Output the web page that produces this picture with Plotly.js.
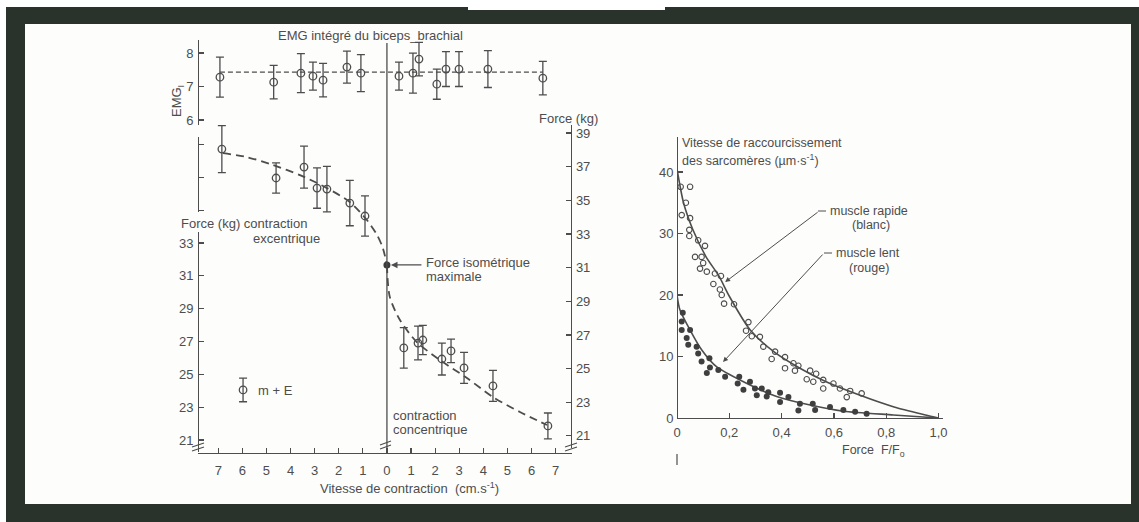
<!DOCTYPE html>
<html>
<head>
<meta charset="utf-8">
<script src="https://cdn.plot.ly/plotly-3.0.1.min.js"></script>
<style>html,body{margin:0;padding:0;background:#fff;}#chart{width:1139px;height:522px;}</style>
</head>
<body>
<div id="chart"></div>
<script>
// ---------- Left panel: EMG (top) ----------
const emgX   = [-6.93, -4.7, -3.57, -3.07, -2.65, -1.66, -1.08, 0.5, 1.08, 1.33, 2.07, 2.45, 2.99, 4.19, 6.47];
const emgY   = [7.28, 7.13, 7.40, 7.31, 7.19, 7.58, 7.40, 7.31, 7.40, 7.82, 7.07, 7.52, 7.52, 7.52, 7.25];
const emgErr = [0.6, 0.5, 0.58, 0.42, 0.5, 0.48, 0.55, 0.42, 0.6, 0.5, 0.45, 0.52, 0.52, 0.55, 0.5];
const emgMeanX = [-6.93, 6.47];
const emgMeanY = [7.43, 7.43];

// ---------- Left panel: force vs velocity ----------
const forceEccX   = [-6.85, -4.6, -3.44, -2.9, -2.49, -1.54, -0.91];
const forceEccY   = [38.05, 36.33, 36.98, 35.73, 35.67, 34.84, 34.07];
const forceEccErr = [1.4, 0.9, 1.25, 1.2, 1.35, 1.35, 1.2];
const forceConX   = [0.7, 1.29, 1.49, 2.28, 2.66, 3.2, 4.4, 6.68];
const forceConY   = [26.23, 26.52, 26.7, 25.57, 26.05, 25.04, 23.97, 21.59];
const forceConErr = [1.2, 1.0, 0.87, 0.95, 0.7, 0.92, 0.92, 0.77];
const isoX = [0];
const isoY = [31.16];
const keyX = [-5.97];
const keyY = [23.73];
const keyErr = [0.7];
const eccCurveX = [-6.8, -5.81, -4.73, -3.61, -2.49, -1.54, -0.83, -0.41, -0.17, 0];
const eccCurveY = [37.81, 37.57, 37.1, 36.5, 35.73, 34.9, 33.83, 32.94, 32.17, 31.16];
const conCurveX = [0, 0.12, 0.54, 1.24, 2.2, 3.32, 4.4, 5.52, 6.64];
const conCurveY = [31.16, 29.26, 27.89, 26.58, 25.51, 24.44, 23.31, 22.42, 21.65];
const velTickVals = [-7, -6, -5, -4, -3, -2, -1, 0, 1, 2, 3, 4, 5, 6, 7];
const velTickText = ['7','6','5','4','3','2','1','0','1','2','3','4','5','6','7'];

// ---------- Right panel: sarcomere shortening velocity ----------
const fastF = [0.014,0.05,0.034,0.018,0.05,0.047,0.047,0.081,0.107,0.069,0.094,0.10,0.088,0.114,0.145,0.168,0.139,0.164,0.171,0.18,0.218,0.273,0.264,0.286,0.317,0.33,0.375,0.362,0.413,0.413,0.445,0.464,0.451,0.509,0.532,0.496,0.521,0.559,0.598,0.559,0.623,0.662,0.649,0.706];
const fastV = [37.6,37.6,35.0,33.0,32.5,30.6,29.6,28.9,28.0,26.2,26.2,25.2,24.3,23.8,23.5,23.1,21.8,20.9,20.0,18.6,18.5,15.6,14.2,13.3,13.2,11.6,10.8,9.6,9.9,8.1,8.9,8.5,7.7,7.7,7.2,6.3,5.9,6.2,5.6,4.8,4.8,4.4,3.4,4.0];
const slowF = [0.022,0.018,0.018,0.05,0.037,0.043,0.075,0.081,0.094,0.124,0.114,0.126,0.158,0.184,0.238,0.232,0.279,0.254,0.298,0.324,0.305,0.343,0.349,0.394,0.394,0.426,0.464,0.47,0.519,0.528,0.585,0.636,0.681,0.725];
const slowV = [17.1,15.7,14.3,14.3,13.0,11.9,11.6,10.5,9.2,9.7,7.3,8.2,7.8,6.7,6.7,5.6,5.9,4.6,4.8,4.8,3.7,3.5,4.2,4.1,2.6,3.4,1.2,2.3,2.3,1.3,1.8,1.3,1.0,0.7];
const fastCurveF = [0, 0.025, 0.06, 0.11, 0.16, 0.2, 0.28, 0.37, 0.47, 0.57, 0.7, 0.83, 0.95, 1.0];
const fastCurveV = [40.5, 35, 30.7, 26.3, 23.1, 19.8, 14.3, 10.8, 8.1, 5.9, 3.7, 1.8, 0.5, 0];
const slowCurveF = [0, 0.011, 0.05, 0.094, 0.152, 0.254, 0.381, 0.509, 0.636, 0.827, 1.0];
const slowCurveV = [20, 17.6, 14.3, 11.1, 8.3, 5.9, 3.5, 2.1, 1.1, 0.5, 0];
const fTickVals = [0, 0.2, 0.4, 0.6, 0.8, 1.0];
const fTickText = ['0', '0,2', '0,4', '0,6', '0,8', '1,0'];
const vTickVals = [0, 10, 20, 30, 40];

// ---------- helpers (pixel -> paper) ----------
const W = 1139, H = 522;
const X = p => p / W;
const Y = p => 1 - p / H;
const INK = '#4d4d4d';
const FONT = 'Liberation Sans, Arial, sans-serif';

const err = arr => ({type: 'data', array: arr, visible: true, color: INK, thickness: 1.3, width: 4});
const openMk = {symbol: 'circle-open', size: 7.5, color: INK, line: {width: 1.3, color: INK}};

const traces = [
  // EMG
  {x: emgMeanX, y: emgMeanY, xaxis: 'x', yaxis: 'y', mode: 'lines', line: {color: INK, width: 1.3, dash: '5px,3px'}, hoverinfo: 'skip'},
  {x: emgX, y: emgY, xaxis: 'x', yaxis: 'y', mode: 'markers', marker: openMk, error_y: err(emgErr)},
  // Force curves
  {x: eccCurveX, y: eccCurveY, xaxis: 'x', yaxis: 'y2', mode: 'lines', line: {color: INK, width: 1.8, dash: '8px,5px', shape: 'spline', smoothing: 0.8}},
  {x: conCurveX, y: conCurveY, xaxis: 'x', yaxis: 'y2', mode: 'lines', line: {color: INK, width: 1.8, dash: '8px,5px', shape: 'spline', smoothing: 0.8}},
  {x: forceEccX, y: forceEccY, xaxis: 'x', yaxis: 'y2', mode: 'markers', marker: openMk, error_y: err(forceEccErr)},
  {x: forceConX, y: forceConY, xaxis: 'x', yaxis: 'y2', mode: 'markers', marker: openMk, error_y: err(forceConErr)},
  {x: keyX, y: keyY, xaxis: 'x', yaxis: 'y2', mode: 'markers', marker: openMk, error_y: err(keyErr)},
  {x: isoX, y: isoY, xaxis: 'x', yaxis: 'y2', mode: 'markers', marker: {symbol: 'circle', size: 7, color: '#3a3a3a'}},
  // dummy traces so the extra axes get drawn
  {x: [null], y: [null], xaxis: 'x', yaxis: 'y3', mode: 'markers', hoverinfo: 'skip'},
  {x: [null], y: [null], xaxis: 'x', yaxis: 'y4', mode: 'markers', hoverinfo: 'skip'},
  // Right panel
  {x: fastCurveF, y: fastCurveV, xaxis: 'x2', yaxis: 'y5', mode: 'lines', line: {color: INK, width: 1.6, shape: 'spline', smoothing: 0.7}},
  {x: slowCurveF, y: slowCurveV, xaxis: 'x2', yaxis: 'y5', mode: 'lines', line: {color: INK, width: 1.6, shape: 'spline', smoothing: 0.7}},
  {x: fastF, y: fastV, xaxis: 'x2', yaxis: 'y5', mode: 'markers', marker: {symbol: 'circle-open', size: 5.5, color: INK, line: {width: 1.1, color: INK}}},
  {x: slowF, y: slowV, xaxis: 'x2', yaxis: 'y5', mode: 'markers', marker: {symbol: 'circle', size: 6, color: '#3f3f3f'}}
];

const axBase = {
  showgrid: false, zeroline: false, showline: true, linecolor: INK, linewidth: 1.3,
  ticks: 'inside', ticklen: 5, tickwidth: 1.2, tickcolor: INK,
  tickfont: {family: FONT, size: 13, color: INK}, fixedrange: true
};

const layout = {
  width: W, height: H,
  margin: {l: 0, r: 0, t: 0, b: 0},
  paper_bgcolor: '#29322b',
  plot_bgcolor: 'rgba(0,0,0,0)',
  showlegend: false,
  font: {family: FONT, color: INK},
  xaxis: Object.assign({}, axBase, {
    domain: [X(198), X(572)], range: [-7.84, 7.68], anchor: 'free', position: Y(453),
    tickmode: 'array', tickvals: velTickVals, ticktext: velTickText, ticklabelstandoff: 5
  }),
  yaxis: Object.assign({}, axBase, {
    domain: [Y(125), Y(40)], range: [5.85, 8.39], anchor: 'free', position: X(198),
    tickmode: 'array', tickvals: [6, 7, 8], ticklabelstandoff: 2
  }),
  yaxis2: Object.assign({}, axBase, {
    domain: [Y(448), Y(125)], range: [20.28, 39.48], anchor: 'free', position: X(571), side: 'right',
    tickmode: 'array', tickvals: [21, 23, 25, 27, 29, 31, 33, 35, 37, 39], ticklabelstandoff: 1
  }),
  yaxis3: Object.assign({}, axBase, {
    domain: [Y(452), Y(232)], range: [20.27, 33.67], anchor: 'free', position: X(198),
    tickmode: 'array', tickvals: [21, 23, 25, 27, 29, 31, 33], ticklabelstandoff: 2
  }),
  yaxis4: Object.assign({}, axBase, {
    domain: [Y(212), Y(137)], range: [34.89, 39.45], anchor: 'free', position: X(198),
    tickmode: 'array', tickvals: [35, 37, 39], showticklabels: false
  }),
  xaxis2: Object.assign({}, axBase, {
    domain: [X(677), X(943)], range: [0, 1.017], anchor: 'free', position: Y(418),
    tickmode: 'array', tickvals: fTickVals, ticktext: fTickText, ticklabelstandoff: 2
  }),
  yaxis5: Object.assign({}, axBase, {
    domain: [Y(418), Y(137)], range: [0, 45.7], anchor: 'free', position: X(677),
    tickmode: 'array', tickvals: vTickVals, ticklabelstandoff: 1
  }),
  shapes: [
    // scanned page: dark frame with white paper
    {type: 'rect', xref: 'paper', yref: 'paper', x0: X(25), x1: X(1131), y0: Y(504), y1: Y(24), fillcolor: '#fdfdfc', line: {width: 0}, layer: 'below'},
    {type: 'rect', xref: 'paper', yref: 'paper', x0: 0, x1: 1, y0: Y(7), y1: 1, fillcolor: '#ffffff', line: {width: 0}, layer: 'below'},
    {type: 'rect', xref: 'paper', yref: 'paper', x0: 0, x1: X(6), y0: 0, y1: 1, fillcolor: '#ffffff', line: {width: 0}, layer: 'below'},
    {type: 'rect', xref: 'paper', yref: 'paper', x0: X(468), x1: X(665), y0: Y(10), y1: 1, fillcolor: '#ffffff', line: {width: 0}, layer: 'below'},
    // isometric (zero velocity) vertical line
    {type: 'line', xref: 'x', yref: 'paper', x0: 0, x1: 0, y0: Y(453), y1: Y(43), line: {color: INK, width: 1.3}},
    // axis break marks
    {type: 'line', xref: 'paper', yref: 'paper', x0: X(192), x1: X(204), y0: Y(447), y1: Y(443), line: {color: INK, width: 1.2}},
    {type: 'line', xref: 'paper', yref: 'paper', x0: X(192), x1: X(204), y0: Y(451), y1: Y(447), line: {color: INK, width: 1.2}},
    {type: 'line', xref: 'paper', yref: 'paper', x0: X(380), x1: X(391), y0: Y(445), y1: Y(441), line: {color: INK, width: 1.2}},
    {type: 'line', xref: 'paper', yref: 'paper', x0: X(380), x1: X(391), y0: Y(449), y1: Y(445), line: {color: INK, width: 1.2}},
    {type: 'line', xref: 'paper', yref: 'paper', x0: X(565), x1: X(577), y0: Y(447), y1: Y(443), line: {color: INK, width: 1.2}},
    {type: 'line', xref: 'paper', yref: 'paper', x0: X(565), x1: X(577), y0: Y(451), y1: Y(447), line: {color: INK, width: 1.2}},
    // leader stubs beside labels of right panel
    {type: 'line', xref: 'paper', yref: 'paper', x0: X(818), x1: X(826), y0: Y(211), y1: Y(211), line: {color: INK, width: 1}},
    {type: 'line', xref: 'paper', yref: 'paper', x0: X(824), x1: X(832), y0: Y(253), y1: Y(253), line: {color: INK, width: 1}},
    // stray mark under right panel
    {type: 'line', xref: 'paper', yref: 'paper', x0: X(677), x1: X(677), y0: Y(465), y1: Y(454), line: {color: INK, width: 1.2}}
  ],
  annotations: []
};

function txt(text, px, py, opts) {
  return Object.assign({
    text: text, xref: 'paper', yref: 'paper', x: X(px), y: Y(py),
    xanchor: 'left', yanchor: 'middle', showarrow: false,
    font: {family: FONT, size: 13, color: INK}
  }, opts || {});
}

layout.annotations.push(
  txt('EMG intégré du biceps_brachial', 370, 35, {xanchor: 'center'}),
  txt('EMG<sub>I</sub>', 178, 101, {xanchor: 'center', textangle: -90}),
  txt('Force (kg)', 568, 118, {xanchor: 'center'}),
  txt('Force (kg) contraction', 179, 223),
  txt('excentrique', 251, 238),
  txt('Force isométrique', 424, 262),
  txt('maximale', 424, 276),
  txt('m + E', 256, 390),
  txt('contraction', 391, 415),
  txt('concentrique', 391, 429),
  txt('Vitesse de contraction  (cm.s<sup>-1</sup>)', 409, 488, {xanchor: 'center'}),
  txt('Vitesse de raccourcissement', 680, 143, {font: {family: FONT, size: 12.5, color: INK}}),
  txt('des sarcomères (µm·s<sup>-1</sup>)', 680, 160, {font: {family: FONT, size: 12.5, color: INK}}),
  txt('muscle rapide', 828, 211, {font: {family: FONT, size: 12.5, color: INK}}),
  txt('(blanc)', 850, 225, {font: {family: FONT, size: 12.5, color: INK}}),
  txt('muscle lent', 834, 253, {font: {family: FONT, size: 12.5, color: INK}}),
  txt('(rouge)', 847, 268, {font: {family: FONT, size: 12.5, color: INK}}),
  txt('Force  F/F<sub>o</sub>', 840, 451, {font: {family: FONT, size: 12.5, color: INK}}),
  // arrows
  {xref: 'x', yref: 'y2', x: isoX[0], y: isoY[0], ax: 36, ay: 0, text: '', showarrow: true,
   arrowhead: 2, arrowsize: 1.1, arrowwidth: 1.2, arrowcolor: INK, standoff: 4},
  {xref: 'x2', yref: 'y5', x: 0.184, y: 22.1, ax: 94, ay: -71, text: '', showarrow: true,
   arrowhead: 2, arrowsize: 1, arrowwidth: 1, arrowcolor: INK},
  {xref: 'x2', yref: 'y5', x: 0.176, y: 9.1, ax: 101, ay: -109, text: '', showarrow: true,
   arrowhead: 2, arrowsize: 1, arrowwidth: 1, arrowcolor: INK}
);

Plotly.newPlot('chart', traces, layout, {displayModeBar: false, staticPlot: true});
</script>
</body>
</html>
